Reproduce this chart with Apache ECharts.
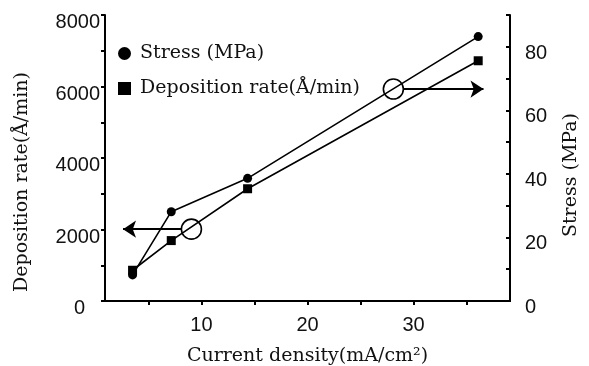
<!DOCTYPE html>
<html>
<head>
<meta charset="utf-8">
<script src="https://cdn.jsdelivr.net/npm/echarts@6/dist/echarts.min.js"></script>
<style>
  html, body { margin: 0; padding: 0; background: #fff; }
  #chart { width: 589px; height: 366px; }
</style>
</head>
<body>
<div id="chart"></div>
<script>
// current density (mA/cm2)
const currentDensity = [3.5, 7.15, 14.35, 36.1];
// left axis: deposition rate (A/min)
const depositionRate = [860, 1690, 3140, 6720];
// right axis: stress (MPa)
const stress = [8.2, 28.1, 38.6, 83.2];

const xTicks = [5, 10, 15, 20, 25, 30, 35];
const xLabels = [10, 20, 30];
const leftTicks = [0, 1000, 2000, 3000, 4000, 5000, 6000, 7000, 8000];
const leftLabels = [0, 2000, 4000, 6000, 8000];
const rightTicks = [0, 10, 20, 30, 40, 50, 60, 70, 80, 90];
const rightLabels = [0, 20, 40, 60, 80];

// open circle markers + arrows pointing to the axis each line belongs to
const depMarker = [9.05, 2010];
const depArrow = [[8.1, 2010], [2.6, 2010]];
const stressMarker = [28.1, 66.7];
const stressArrow = [[29.0, 66.7], [36.6, 66.7]];

const serif = "DejaVu Serif";
const sans = "Liberation Sans";

let myChart = echarts.init(document.getElementById("chart"), null, { renderer: "canvas" });

const axisLine = { lineStyle: { color: "#000", width: 2 } };
const tickStyle = { width: 2, color: "#000" };
const plain = function (v) {
  return String(v);
};

myChart.setOption({
  animation: false,
  // keep the plot box where it is, labels may sit outside it
  grid: { left: 105, right: 79, top: 15, bottom: 65, outerBoundsMode: "none", containLabel: false },
  legend: {
    orient: "vertical",
    left: 113,
    top: 39,
    itemWidth: 13,
    itemHeight: 13,
    itemGap: 16,
    textStyle: { fontFamily: serif, fontSize: 19, color: "#111", padding: [0, 0, 0, 4] },
    data: [
      { name: "Stress (MPa)", icon: "circle" },
      { name: "Deposition rate(Å/min)", icon: "rect" },
    ],
  },
  xAxis: [
    {
      type: "value",
      position: "bottom",
      min: 0.9,
      max: 39.1,
      name: "Current density(mA/cm²)",
      nameLocation: "middle",
      nameGap: 46,
      nameTextStyle: { fontFamily: serif, fontSize: 19, color: "#111" },
      axisLine: axisLine,
      axisTick: { show: true, length: 4, lineStyle: tickStyle, customValues: xTicks },
      axisLabel: {
        margin: 14,
        customValues: xLabels,
        formatter: plain,
        color: "#111",
        fontFamily: sans,
        fontSize: 20,
      },
      splitLine: { show: false },
    },
    {
      type: "value",
      position: "top",
      min: 0.9,
      max: 39.1,
      axisLine: axisLine,
      axisTick: { show: true, inside: true, length: 4, lineStyle: tickStyle, customValues: xTicks },
      axisLabel: { show: false },
      splitLine: { show: false },
    },
  ],
  yAxis: [
    {
      type: "value",
      position: "left",
      min: 0,
      max: 8000,
      interval: 1000,
      name: "Deposition rate(Å/min)",
      nameLocation: "middle",
      nameRotate: 90,
      nameGap: 73,
      nameTextStyle: { fontFamily: serif, fontSize: 19, color: "#111", padding: [0, 48, 0, 0] },
      axisLine: axisLine,
      axisTick: { show: true, length: 4, lineStyle: tickStyle, customValues: leftTicks },
      axisLabel: {
        margin: 5,
        customValues: leftLabels,
        // the zero sits a bit further left than the others in the original
        formatter: function (v) {
          return v === 0 ? "{z|0}" : String(v);
        },
        rich: {
          z: { padding: [0, 15, 0, 0], fontFamily: sans, fontSize: 20, lineHeight: 15, color: "#111" },
        },
        verticalAlign: "top",
        lineHeight: 15,
        color: "#111",
        fontFamily: sans,
        fontSize: 20,
      },
      splitLine: { show: false },
    },
    {
      type: "value",
      position: "right",
      min: 0,
      max: 90,
      name: "Stress (MPa)",
      nameLocation: "middle",
      nameRotate: 90,
      nameGap: 52,
      nameTextStyle: { fontFamily: serif, fontSize: 19, color: "#111", padding: [0, 34, 0, 0] },
      axisLine: axisLine,
      axisTick: { show: true, inside: true, length: 4, lineStyle: tickStyle, customValues: rightTicks },
      axisLabel: {
        margin: 15,
        customValues: rightLabels,
        formatter: plain,
        verticalAlign: "top",
        lineHeight: 13,
        color: "#111",
        fontFamily: sans,
        fontSize: 20,
      },
      splitLine: { show: false },
    },
  ],
  series: [
    {
      name: "Stress (MPa)",
      type: "line",
      yAxisIndex: 1,
      data: currentDensity.map((x, i) => [x, stress[i]]),
      symbol: "circle",
      symbolSize: 9,
      itemStyle: { color: "#000" },
      lineStyle: { color: "#000", width: 1.6 },
      markPoint: {
        silent: true,
        symbol: "circle",
        symbolSize: 20,
        label: { show: false },
        itemStyle: { color: "rgba(0,0,0,0)", borderColor: "#000", borderWidth: 1.6 },
        data: [{ coord: stressMarker }],
      },
      markLine: {
        silent: true,
        symbol: ["none", "arrow"],
        symbolSize: 13,
        label: { show: false },
        lineStyle: { color: "#000", width: 1.8, type: "solid" },
        data: [[{ coord: stressArrow[0] }, { coord: stressArrow[1] }]],
      },
    },
    {
      name: "Deposition rate(Å/min)",
      type: "line",
      yAxisIndex: 0,
      data: currentDensity.map((x, i) => [x, depositionRate[i]]),
      symbol: "rect",
      symbolSize: 9,
      itemStyle: { color: "#000" },
      lineStyle: { color: "#000", width: 1.6 },
      markPoint: {
        silent: true,
        symbol: "circle",
        symbolSize: 20,
        label: { show: false },
        itemStyle: { color: "rgba(0,0,0,0)", borderColor: "#000", borderWidth: 1.6 },
        data: [{ coord: depMarker }],
      },
      markLine: {
        silent: true,
        symbol: ["none", "arrow"],
        symbolSize: 13,
        label: { show: false },
        lineStyle: { color: "#000", width: 1.8, type: "solid" },
        data: [[{ coord: depArrow[0] }, { coord: depArrow[1] }]],
      },
    },
  ],
});
window.addEventListener("resize", function () {
  myChart.resize();
});
</script>
</body>
</html>
